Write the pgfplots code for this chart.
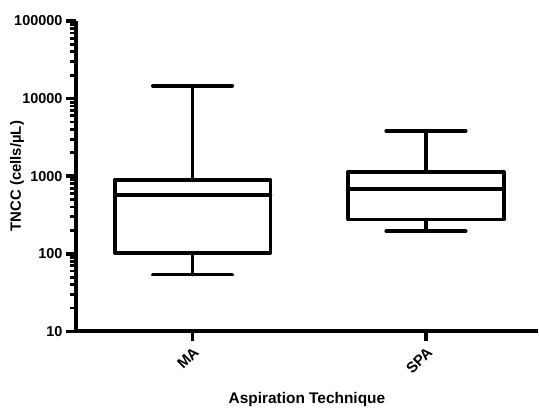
\documentclass[border=0pt]{standalone}
\usepackage{fontspec}
\setmainfont{Liberation Sans}
\usepackage{pgfplots}
\pgfplotsset{compat=1.18}
\usepgfplotslibrary{statistics}

\begin{document}
\begin{tikzpicture}
\begin{axis}[
    scale only axis,
    width=463bp, height=311bp,
    ymode=log,
    ymin=10, ymax=100000,
    xmin=0.5, xmax=2.48,
    axis lines*=left,
    axis line style={line width=4bp, black},
    tick align=outside,
    major tick length=10bp,
    minor tick length=6bp,
    major tick style={line width=3.5bp, black},
    minor tick style={line width=2.8bp, black},
    xtick={1,2}, xticklabels={MA,SPA},
    minor xtick={},
    ytick={10,100,1000,10000,100000},
    yticklabels={10,100,1000,10000,100000},
    xticklabel style={rotate=45, anchor=north east, font=\bfseries\fontsize{15}{16}\selectfont},
    yticklabel style={font=\bfseries\fontsize{14.5}{16}\selectfont},
    xlabel={Aspiration Technique},
    ylabel={TNCC (cells/µL)},
    xlabel style={at={(axis description cs:0.5,0)}, anchor=center, yshift=-68bp, font=\bfseries\fontsize{15.5}{17}\selectfont},
    ylabel style={at={(axis description cs:-0.1274,0.5)}, anchor=center, font=\bfseries\fontsize{15}{17}\selectfont},
    boxplot/draw direction=y,
    boxplot/box extend=0.667,
    boxplot/whisker extend=0.34,
    clip=false,
]
\addplot+[boxplot prepared={draw position=1,
    lower whisker=54, lower quartile=103, median=578,
    upper quartile=901, upper whisker=14600},
    black, line width=3.8bp, line join=round, line cap=round, mark=none, solid]
    coordinates {};
\addplot+[boxplot prepared={draw position=2,
    lower whisker=195, lower quartile=276, median=690,
    upper quartile=1132, upper whisker=3850},
    black, line width=3.8bp, line join=round, line cap=round, mark=none, solid]
    coordinates {};
\end{axis}
\pgfresetboundingbox
\path[use as bounding box] ([shift={(-76bp,-79bp)}]current axis.south west) rectangle ([shift={(1bp,21bp)}]current axis.north east);
\end{tikzpicture}
\end{document}
